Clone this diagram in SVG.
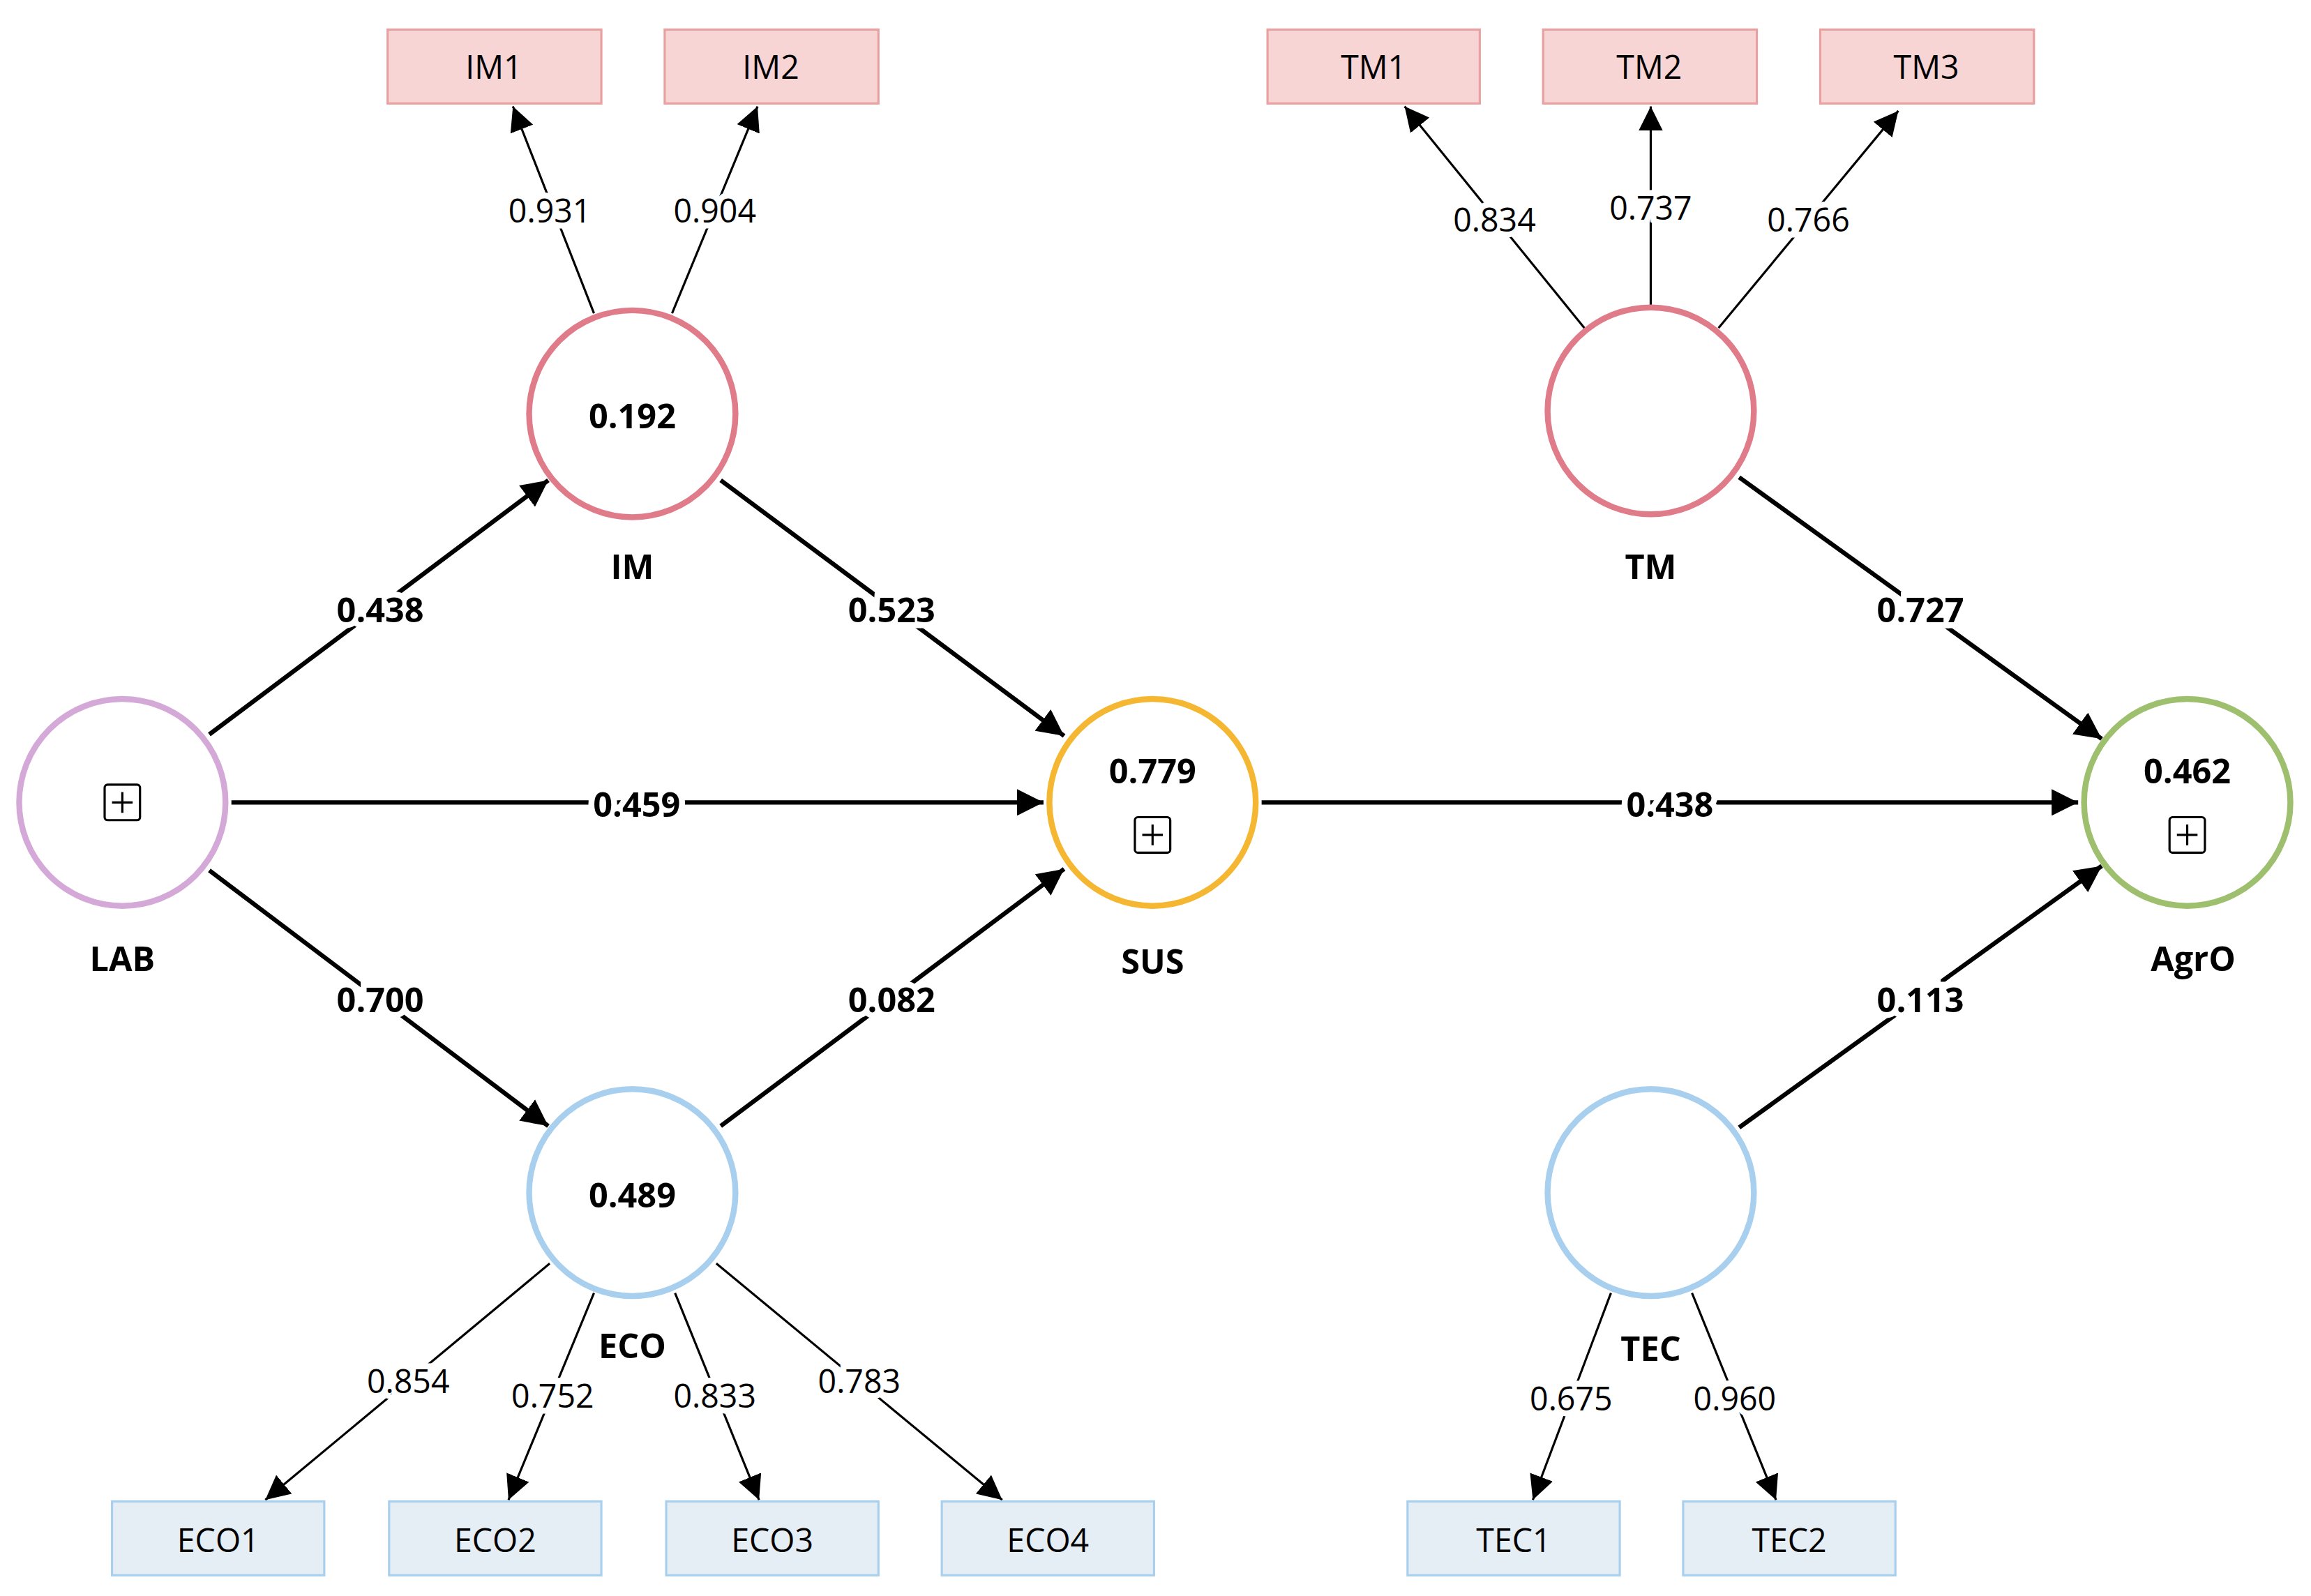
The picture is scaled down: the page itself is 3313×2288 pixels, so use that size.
<svg xmlns="http://www.w3.org/2000/svg" width="3313" height="2288" viewBox="0 0 3313 2288">
<style>
.bg{fill:#fff}
.c{fill:#fff;stroke-width:4}
.t{font-family:"Open Sans","Noto Sans",sans-serif;text-anchor:middle;dominant-baseline:central;fill:#000}
.b{font-weight:bold;font-size:23px}
.r{font-size:22px}
.thick{stroke:#000;stroke-width:3;fill:none;marker-end:url(#ah)}
.thin{stroke:#000;stroke-width:1.5;fill:none;marker-end:url(#ah2)}
.lbl{paint-order:stroke;stroke:#fff;stroke-width:8px}
.pb{fill:#f8d5d5;stroke:#e8a0a0;stroke-width:1.5}
.bb{fill:#e6eef5;stroke:#a8d0ee;stroke-width:1.5}
.ic{fill:none;stroke:#000;stroke-width:1.5}
</style>
<defs>
<marker id="ah" viewBox="0 0 10 10" refX="10" refY="5" markerWidth="6" markerHeight="6" orient="auto"><path d="M0,0L10,5L0,10z" fill="#000"/></marker>
<marker id="ah2" viewBox="0 0 10 10" refX="10" refY="5" markerWidth="11" markerHeight="11" orient="auto"><path d="M0,0L10,5L0,10z" fill="#000"/></marker>
<g id="plus"><rect x="-12" y="-12" width="24" height="24" rx="2" class="ic"/><path d="M-7,0H7M0,-7V7" class="ic"/></g>
</defs>
<rect width="3313" height="2288" class="bg"/>
<g transform="scale(2.1129,2.1185)">
<g id="connectors">
<path class="thin" d="M403,212L348,72"/><path class="thin" d="M456,212L514,72"/>
<path class="thin" d="M1075,222L953,72"/><path class="thin" d="M1120,208L1120,72"/><path class="thin" d="M1166,222L1288,75"/>
<path class="thin" d="M373,855L180,1015"/><path class="thin" d="M403,875L345,1015"/><path class="thin" d="M458,875L515,1015"/><path class="thin" d="M486,855L680,1015"/>
<path class="thin" d="M1093,875L1040,1015"/><path class="thin" d="M1148,875L1205,1015"/>
<path class="thick" d="M142,497L372,325"/><path class="thick" d="M489,325L722,498"/><path class="thick" d="M157,543L708,543"/>
<path class="thick" d="M142,589L372,762"/><path class="thick" d="M489,762L722,588"/><path class="thick" d="M856,543L1410,543"/>
<path class="thick" d="M1180,323L1426,500"/><path class="thick" d="M1180,763L1426,586"/>
<g class="t r lbl">
<text x="373" y="142">0.931</text><text x="485" y="142">0.904</text>
<text x="1014" y="148">0.834</text><text x="1120" y="140">0.737</text><text x="1227" y="148">0.766</text>
<text x="277" y="934">0.854</text><text x="375" y="944">0.752</text><text x="485" y="944">0.833</text><text x="583" y="934">0.783</text>
<text x="1066" y="946">0.675</text><text x="1177" y="946">0.960</text>
</g>
<g class="t b lbl">
<text x="258" y="412">0.438</text><text x="605" y="412">0.523</text><text x="432" y="544">0.459</text>
<text x="258" y="676">0.700</text><text x="605" y="676">0.082</text><text x="1133" y="544">0.438</text>
<text x="1303" y="412">0.727</text><text x="1303" y="676">0.113</text>
</g>
</g>
<g id="LAB"><circle cx="83" cy="543" r="70" class="c" stroke="#d4a9d8"/><use href="#plus" x="83" y="543"/><text x="83" y="648" class="t b">LAB</text></g>
<g id="IM"><circle cx="429" cy="280" r="70" class="c" stroke="#e07b8a"/><text x="429" y="281" class="t b">0.192</text><text x="429" y="383" class="t b">IM</text></g>
<g id="SUS"><circle cx="782" cy="543" r="70" class="c" stroke="#f5b731"/><text x="782" y="521" class="t b">0.779</text><use href="#plus" x="782" y="565"/><text x="782" y="650" class="t b">SUS</text></g>
<g id="AgrO"><circle cx="1484" cy="543" r="70" class="c" stroke="#9dbf6e"/><text x="1484" y="521" class="t b">0.462</text><use href="#plus" x="1484" y="565"/><text x="1488" y="648" class="t b">AgrO</text></g>
<g id="TM"><circle cx="1120" cy="278" r="70" class="c" stroke="#e07b8a"/><text x="1120" y="383" class="t b">TM</text></g>
<g id="ECO"><circle cx="429" cy="807" r="70" class="c" stroke="#a8d0ee"/><text x="429" y="808" class="t b">0.489</text><text x="429" y="910" class="t b">ECO</text></g>
<g id="TEC"><circle cx="1120" cy="807" r="70" class="c" stroke="#a8d0ee"/><text x="1120" y="912" class="t b">TEC</text></g>
<g id="IM1"><rect x="263" y="20" width="145" height="50" class="pb"/><text x="335" y="45" class="t r">IM1</text></g>
<g id="IM2"><rect x="451" y="20" width="145" height="50" class="pb"/><text x="523" y="45" class="t r">IM2</text></g>
<g id="TM1"><rect x="860" y="20" width="144" height="50" class="pb"/><text x="932" y="45" class="t r">TM1</text></g>
<g id="TM2"><rect x="1047" y="20" width="145" height="50" class="pb"/><text x="1119" y="45" class="t r">TM2</text></g>
<g id="TM3"><rect x="1235" y="20" width="145" height="50" class="pb"/><text x="1307" y="45" class="t r">TM3</text></g>
<g id="ECO1"><rect x="76" y="1016" width="144" height="50" class="bb"/><text x="148" y="1042" class="t r">ECO1</text></g>
<g id="ECO2"><rect x="264" y="1016" width="144" height="50" class="bb"/><text x="336" y="1042" class="t r">ECO2</text></g>
<g id="ECO3"><rect x="452" y="1016" width="144" height="50" class="bb"/><text x="524" y="1042" class="t r">ECO3</text></g>
<g id="ECO4"><rect x="639" y="1016" width="144" height="50" class="bb"/><text x="711" y="1042" class="t r">ECO4</text></g>
<g id="TEC1"><rect x="955" y="1016" width="144" height="50" class="bb"/><text x="1027" y="1042" class="t r">TEC1</text></g>
<g id="TEC2"><rect x="1142" y="1016" width="144" height="50" class="bb"/><text x="1214" y="1042" class="t r">TEC2</text></g>
</g>
</svg>
